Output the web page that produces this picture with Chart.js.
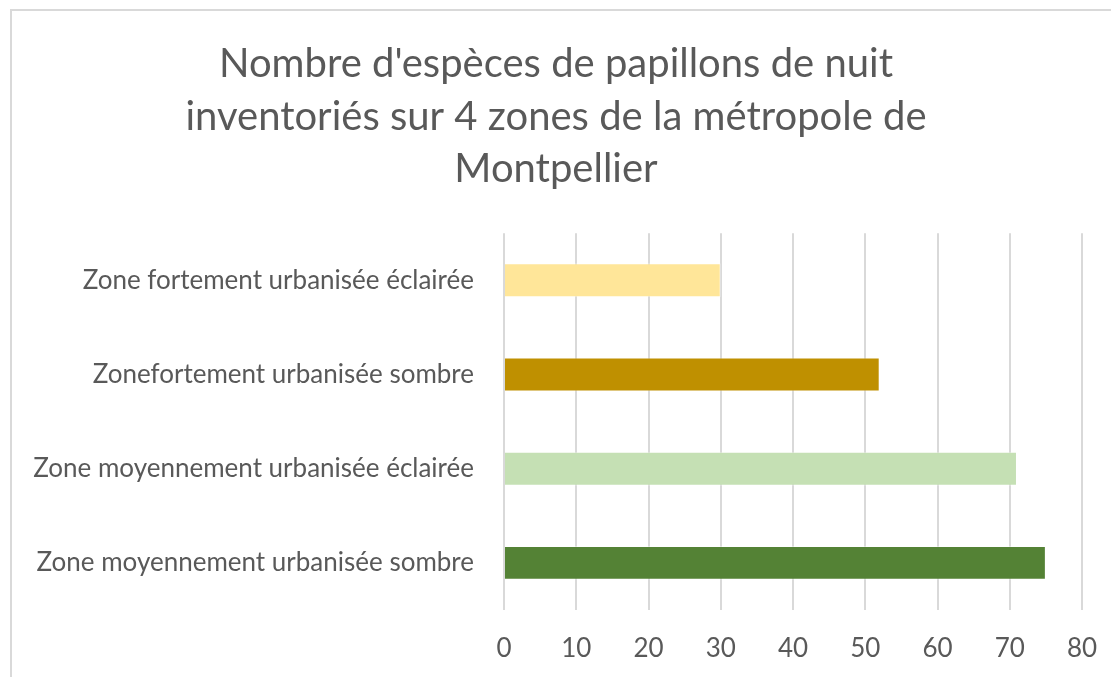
<!DOCTYPE html>
<html>
<head>
<meta charset="utf-8">
<script src="https://cdn.jsdelivr.net/npm/chart.js@4"></script>
<style>
  body { margin: 0; background: #fff; }
  #frame {
    position: absolute; left: 10px; top: 9px;
    width: 1200px; height: 800px;
    border: 2px solid #d9d9d9;
  }
  #myChart { position: absolute; left: 0; top: 0; }
</style>
</head>
<body>
<div id="frame"></div>
<canvas id="myChart" width="1111" height="677"></canvas>
<script>
const zones = [
    'Zone fortement urbanisée éclairée',
    'Zonefortement urbanisée sombre',
    'Zone moyennement urbanisée éclairée',
    'Zone moyennement urbanisée sombre'
];
const especes = [30, 52, 71, 75];
const couleurs = ['#FFE699', '#BF9000', '#C5E0B4', '#548235'];
const titre = [
    "Nombre d'espèces de papillons de nuit",
    'inventoriés sur 4 zones de la métropole de',
    'Montpellier'
];

const gris = '#595959';
const police = 'Lato, "Open Sans", sans-serif';

const ctx = document.getElementById('myChart').getContext('2d');
const myChart = new Chart(ctx, {
    type: 'bar',
    data: {
        labels: zones,
        datasets: [{
            data: especes,
            backgroundColor: couleurs,
            borderColor: 'rgba(255,255,255,0.4)',
            borderWidth: 1,
            barPercentage: 0.36,
            categoryPercentage: 1
        }]
    },
    options: {
        indexAxis: 'y',
        responsive: false,
        animation: false,
        layout: {
            padding: { left: 30, right: 29, top: 38, bottom: 0 }
        },
        plugins: {
            legend: { display: false },
            tooltip: { enabled: false },
            title: {
                display: true,
                text: titre,
                color: gris,
                font: { family: police, size: 40, weight: 'normal', lineHeight: 1.31 },
                padding: { top: 0, bottom: 38 }
            }
        },
        scales: {
            x: {
                min: 0,
                max: 80,
                afterFit: function(scale) {
                    // hauteur fixe de l'axe, pas de marge en plus pour les libellés
                    scale.height = 67;
                    scale.paddingLeft = 0;
                    scale.paddingRight = 0;
                },
                ticks: {
                    stepSize: 10,
                    color: gris,
                    padding: 23,
                    font: { family: police, size: 26 }
                },
                grid: { color: '#d9d9d9', lineWidth: 2, drawTicks: false },
                border: { display: false }
            },
            y: {
                afterFit: function(scale) {
                    scale.width = 474;
                },
                ticks: {
                    color: gris,
                    padding: 30,
                    font: { family: police, size: 26 }
                },
                grid: { display: false, drawTicks: false },
                border: { display: false }
            }
        }
    }
});
</script>
</body>
</html>
